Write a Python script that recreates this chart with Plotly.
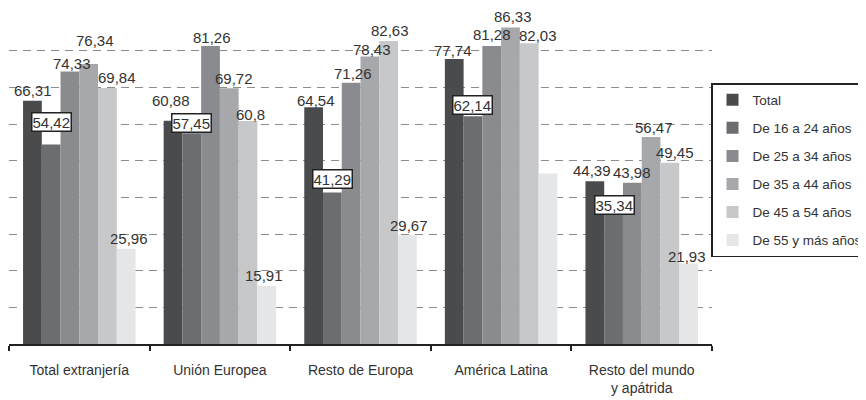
import plotly.graph_objects as go

categories = ["Total extranjería", "Unión Europea", "Resto de Europa", "América Latina",
              "Resto del mundo<br>y apátrida"]
series_names = ["Total", "De 16 a 24 años", "De 25 a 34 años", "De 35 a 44 años",
                "De 45 a 54 años", "De 55 y más años"]

total = [66.31, 60.88, 64.54, 77.74, 44.39]
de_16_24 = [54.42, 57.45, 41.29, 62.14, 35.34]
de_25_34 = [74.33, 81.26, 71.26, 81.28, 43.98]
de_35_44 = [76.34, 69.72, 78.43, 86.33, 56.47]
de_45_54 = [69.84, 60.8, 82.63, 82.03, 49.45]
de_55_mas = [25.96, 15.91, 29.67, 46.5, 21.93]

series_values = [total, de_16_24, de_25_34, de_35_44, de_45_54, de_55_mas]

# labels not printed in the original (series index, category index)
hidden_labels = {(5, 3)}
# series whose labels are boxed
boxed_series = {1}

# styling
colors = ["#4a4b4d", "#6c6d70", "#8a8b8e", "#a7a8ab", "#c7c8ca", "#e5e6e7"]
text_color = "#333333"
font_family = "Liberation Sans, Arial, sans-serif"

# label nudges in px (dx, dy up)
label_nudge = {
    (0, 0): (1, 0), (1, 0): (0, 12), (2, 0): (2, -2), (3, 0): (6, 14), (4, 0): (10, 0), (5, 0): (3, 0),
    (0, 1): (-2, 10), (1, 1): (0, 0), (2, 1): (1, -1), (3, 1): (5, 0), (4, 1): (2, -3), (5, 1): (-3, 0),
    (0, 2): (2, -3), (1, 2): (0, 4), (2, 2): (2, -1), (3, 2): (2, -3), (4, 2): (1, 1), (5, 2): (2, 0),
    (0, 3): (-1, -2), (1, 3): (0, 1), (2, 3): (0, 1), (3, 3): (3, 1), (4, 3): (9, -2),
    (0, 4): (-3, 1), (1, 4): (1, -1), (2, 4): (0, 0), (3, 4): (3, -1), (4, 4): (5, 0), (5, 4): (-2, -3),
}

# the page body adds an 8px offset; the figure is sized to fill the 866x400 window
PAGE_OFFSET = 8
W, H = 866 - PAGE_OFFSET, 400 - PAGE_OFFSET
margin = dict(l=1, r=154, t=6, b=56)
plot_w = W - margin["l"] - margin["r"]
plot_h = H - margin["t"] - margin["b"]
bargap = 0.2
n_series = len(series_values)
cat_px = plot_w / len(categories)
bar_px = cat_px * (1 - bargap) / n_series

fig = go.Figure()
for i, (name, vals) in enumerate(zip(series_names, series_values)):
    fig.add_trace(go.Bar(
        x=categories, y=vals, name=name, marker=dict(color=colors[i], line=dict(width=0)),
        legendgroup=name,
    ))

annotations = []
for i, vals in enumerate(series_values):
    for j, v in enumerate(vals):
        if (i, j) in hidden_labels:
            continue
        dx, dy = label_nudge.get((i, j), (0, 0))
        txt = ("%g" % v).replace(".", ",")
        ann = dict(
            x=categories[j], y=v, xref="x", yref="y", text=txt, showarrow=False,
            xanchor="center", yanchor="middle",
            xshift=(i - (n_series - 1) / 2) * bar_px + dx, yshift=10 + dy,
            font=dict(family=font_family, size=15, color=text_color),
        )
        if i in boxed_series:
            ann.update(bordercolor="#222222", borderwidth=1.5, borderpad=0, bgcolor="white")
        annotations.append(ann)

legend_left_px = 703   # in figure pixels
legend_top_px = 75

fig.update_layout(
    width=W, height=H, margin=dict(**margin, autoexpand=False),
    paper_bgcolor="white", plot_bgcolor="white",
    barmode="group", bargap=bargap, bargroupgap=0,
    font=dict(family=font_family, color=text_color, size=14),
    annotations=annotations,
    showlegend=True,
    legend=dict(
        x=(legend_left_px - margin["l"]) / plot_w, xanchor="left",
        y=(H - margin["b"] - legend_top_px) / plot_h, yanchor="top",
        bordercolor="#222222", borderwidth=1.5, bgcolor="white",
        font=dict(family=font_family, size=13.5, color=text_color),
        tracegroupgap=7.5, itemwidth=30,
    ),
    xaxis=dict(
        showline=True, linecolor="#222222", linewidth=1.5,
        ticks="outside", tickson="boundaries", ticklen=5, tickcolor="#222222", tickwidth=1.5,
        tickfont=dict(family=font_family, size=14, color=text_color),
        ticklabelstandoff=12, showgrid=False,
    ),
    yaxis=dict(
        range=[0, 90], dtick=10, showticklabels=False, zeroline=False,
        showgrid=True, gridcolor="#8c8c8c", gridwidth=1.3, griddash="8px,6px",
        showline=False, ticks="",
    ),
)

fig.write_html("out.html")
